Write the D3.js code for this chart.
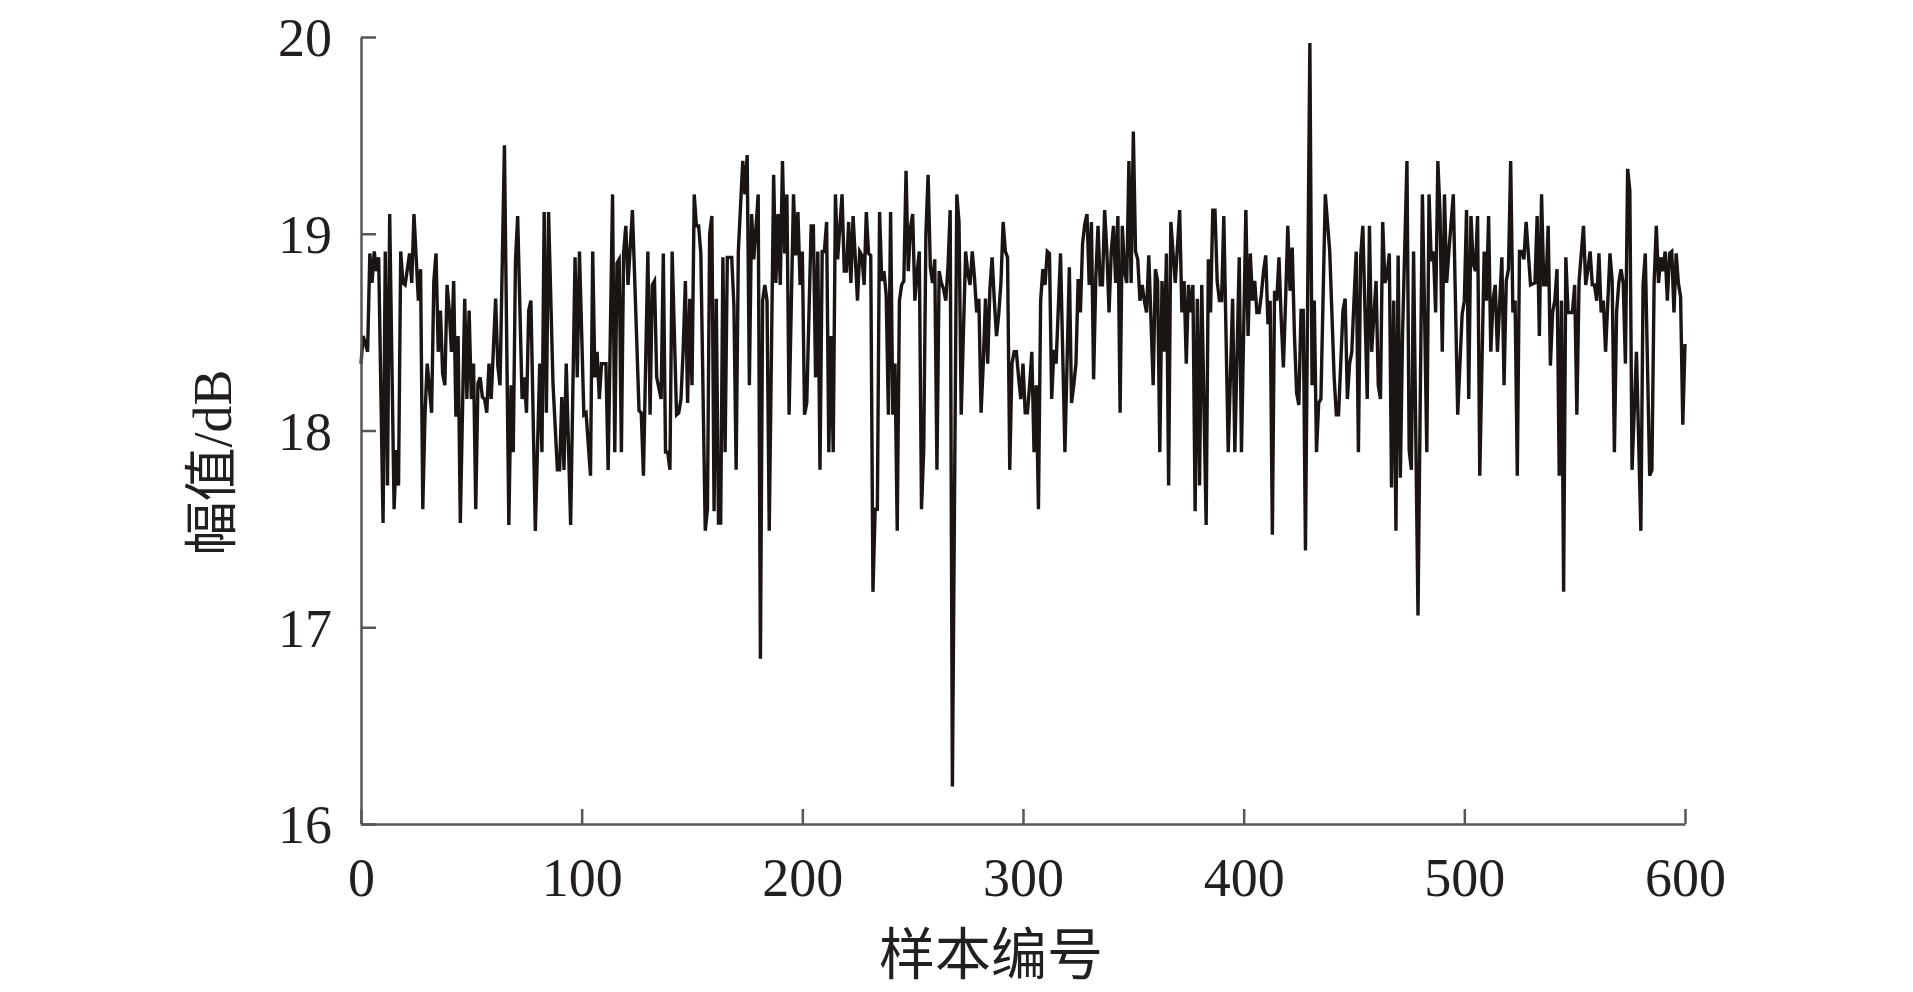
<!DOCTYPE html>
<html>
<head>
<meta charset="utf-8">
<script src="https://cdn.jsdelivr.net/npm/d3@7"></script>
<style>
  html, body { margin: 0; padding: 0; background: #fff; }
</style>
</head>
<body>
<div id="chart"></div>
<script>
// sample numbers where the trace turns
const sampleNo = [
  0,1,3,4,5,6,7,8,10,11,12,13,15,16,17,18,19,20,22,23,24,26,27,28,29,30,32,33,34,35,36,37,38,39,40,41,42,43,44,45,47,48,49,50,
  51,52,53,54,55,56,57,58,59,61,62,63,65,67,68,69,70,71,73,74,75,76,77,79,81,82,83,84,85,87,89,90,91,92,93,95,97,98,99,
  101,102,104,105,106,107,108,109,111,112,114,115,116,117,118,119,120,121,123,126,127,128,130,131,132,133,134,136,137,138,139,140,141,143,144,145,146,147,148,149,150,
  151,152,153,154,156,157,158,159,160,161,162,163,164,165,166,168,169,170,171,173,174,175,176,177,178,180,181,182,183,184,185,187,188,189,190,191,192,193,194,196,197,198,199,200,
  201,202,204,205,206,207,208,209,210,211,212,213,214,215,216,218,219,220,221,222,223,225,226,227,228,229,230,231,232,233,234,235,236,237,238,239,240,241,242,243,244,245,246,247,248,249,250,
  251,252,253,254,255,256,257,258,259,260,261,262,263,264,265,266,267,268,270,271,272,274,275,276,277,278,279,280,281,282,283,284,285,286,287,288,289,290,291,292,293,294,295,296,297,298,299,300,
  301,302,303,304,305,306,307,308,309,310,311,312,313,314,315,317,319,321,322,323,324,325,326,327,328,329,330,331,332,333,334,335,336,337,338,339,340,341,342,343,344,345,346,347,348,349,350,
  351,352,353,354,355,356,357,359,360,361,362,363,364,365,366,367,369,371,372,373,374,375,376,377,378,379,380,381,383,384,385,386,387,388,389,390,391,393,395,396,398,399,
  401,402,403,404,405,406,407,408,409,410,411,412,413,414,415,416,417,418,419,420,421,422,423,424,425,426,427,428,430,431,432,433,434,435,437,439,441,442,443,445,446,447,448,449,450,
  451,452,453,454,456,457,458,459,460,461,462,463,464,465,466,467,468,469,470,471,472,474,475,476,477,479,481,482,483,484,485,486,487,488,489,490,491,492,493,495,497,499,500,
  501,502,503,504,505,506,507,509,510,511,512,513,514,515,517,518,519,520,521,522,523,524,525,526,527,528,530,532,533,534,535,536,537,538,539,540,541,542,543,544,545,546,547,549,550,
  551,552,554,555,556,557,558,559,560,561,562,563,564,566,567,568,569,570,571,572,573,574,575,576,578,580,581,582,584,585,586,587,588,589,590,591,592,593,594,595,596,597,598,599,600
]

// amplitude in dB at those samples
const amplitude = [
  18.34,18.48,18.40,18.90,18.75,18.91,18.81,18.88,17.53,18.91,17.72,19.10,17.60,17.90,17.72,18.91,18.75,18.74,18.90,18.75,19.10,18.66,18.82,17.60,18.08,18.34,18.09,18.76,18.90,18.40,18.61,18.29,18.23,18.74,18.61,18.40,18.76,18.07,18.48,17.53,18.67,18.16,18.61,18.16,
  18.34,17.60,18.24,18.27,18.17,18.16,18.09,18.34,18.16,18.67,18.33,18.23,19.45,17.52,18.23,17.89,18.86,19.09,18.16,18.27,18.09,18.61,18.66,17.49,18.34,17.89,19.11,18.09,19.11,18.24,17.80,17.80,18.17,17.80,18.34,17.52,18.88,18.27,18.91,
  18.08,18.09,17.77,18.91,18.27,18.40,18.16,18.34,18.34,17.80,19.20,17.89,18.85,18.87,17.89,18.90,19.04,18.74,19.12,18.10,18.09,17.77,18.91,18.08,18.74,18.76,18.27,18.16,18.90,17.89,17.89,17.80,18.91,18.08,18.09,18.16,18.41,18.76,18.14,18.67,18.23,
  19.20,19.04,19.04,18.90,17.49,17.60,19.00,19.09,17.59,18.67,17.53,17.53,18.88,17.89,18.88,18.88,18.63,17.80,18.91,19.37,19.20,19.40,18.23,19.10,18.87,19.20,16.84,18.66,18.74,18.66,17.49,19.30,18.75,19.10,18.74,19.37,18.90,19.20,18.08,19.20,18.89,19.11,18.74,18.91,
  18.08,18.14,19.04,19.04,18.27,18.91,17.80,18.91,18.91,19.06,17.89,18.48,17.89,19.20,18.87,19.20,18.81,18.81,19.06,18.75,19.09,18.66,18.91,18.89,18.74,19.11,18.90,18.89,17.18,17.60,17.60,19.11,18.76,18.81,18.69,18.08,19.11,18.08,18.34,17.49,18.66,18.74,18.76,19.32,18.81,19.03,19.10,
  18.66,18.80,18.91,17.60,17.90,19.00,19.30,18.83,18.75,18.87,17.80,18.81,18.75,18.72,18.66,18.83,19.12,16.19,19.20,19.06,18.08,18.91,18.80,18.74,18.91,18.78,18.60,18.67,18.09,18.34,18.67,18.34,18.72,18.88,18.66,18.48,18.59,18.75,19.06,18.91,18.88,17.80,18.34,18.40,18.40,18.27,18.16,18.34,
  18.09,18.09,18.23,18.40,17.89,18.23,17.60,18.66,18.82,18.74,18.91,18.90,18.16,18.41,18.34,18.90,17.89,18.83,18.14,18.23,18.34,18.77,18.60,18.95,19.05,19.10,18.74,19.06,18.26,18.78,19.04,18.74,18.74,19.12,18.91,18.60,18.91,19.04,18.75,19.09,18.09,19.04,18.81,18.75,19.37,18.75,19.52,
  18.91,18.87,18.66,18.74,18.66,18.60,18.89,18.23,18.82,18.76,17.89,18.76,18.40,18.90,17.72,19.06,18.75,19.12,18.60,18.76,18.34,18.74,18.60,18.74,17.59,18.67,17.72,18.74,17.52,18.87,18.60,19.12,19.12,18.76,18.66,18.66,19.09,17.89,18.67,17.89,18.88,17.89,
  19.12,18.48,18.90,18.66,18.76,18.60,18.60,18.69,18.81,18.89,18.54,18.66,17.47,18.71,18.66,18.88,18.57,18.32,18.66,19.04,18.71,18.93,18.49,18.19,18.13,18.61,18.61,17.39,19.97,18.23,18.66,17.89,18.14,18.16,19.20,18.91,18.27,18.08,18.08,18.61,18.67,18.16,18.34,18.40,18.66,
  18.91,17.89,18.88,19.04,18.16,19.04,18.40,18.58,18.76,18.23,18.16,19.06,18.75,18.79,18.90,17.71,18.66,17.49,18.89,17.76,18.49,19.37,17.90,17.80,18.91,17.06,19.20,18.58,17.89,19.20,18.86,18.91,18.60,19.37,19.10,18.40,19.20,18.75,18.91,19.20,18.08,18.59,18.66,
  19.12,18.16,19.09,18.85,18.81,19.09,17.77,18.91,18.66,19.09,18.40,18.66,18.74,18.40,18.88,18.23,18.76,18.82,19.37,18.60,18.66,17.77,18.91,18.91,18.87,19.06,18.74,18.75,19.09,18.48,19.20,18.74,18.74,19.04,18.33,18.60,18.66,18.82,17.77,18.66,17.18,18.88,18.60,18.60,18.74,
  18.08,18.76,19.04,18.74,18.82,18.91,18.74,18.74,18.66,18.90,18.60,18.66,18.40,18.90,18.76,17.89,18.60,18.75,18.82,18.75,18.34,19.33,19.22,17.80,18.40,17.49,18.74,18.90,17.77,17.80,18.75,19.04,18.75,18.88,18.81,18.91,18.66,18.90,18.91,18.60,18.90,18.75,18.68,18.03,18.44
]

const xTicks = [0, 100, 200, 300, 400, 500, 600]
const yTicks = [16, 17, 18, 19, 20]
const xTitle = "样本编号"
const yTitle = "幅值/dB"

const W = 1913, H = 992
const margin = { top: 37, right: 228, bottom: 168, left: 361 }
const width = W - margin.left - margin.right
const height = H - margin.top - margin.bottom

const axisColor = "#5b5656"
const textColor = "#231f20"
const numFont = "'Liberation Serif', 'DejaVu Serif', serif"
const cjkFont = "'Noto Sans CJK SC', 'Noto Sans', sans-serif"

const svg = d3.select("#chart")
  .append("svg")
  .attr("width", W)
  .attr("height", H)

const root = svg.append("g")
  .attr("transform", "translate(" + margin.left + "," + margin.top + ")")

const x = d3.scaleLinear().domain([0, 600]).range([0, width])
const y = d3.scaleLinear().domain([16, 20]).range([height, 0])

const points = sampleNo.map((s, i) => ({ s: s, v: amplitude[i] }))

// trace
root.append("path")
  .datum(points)
  .attr("fill", "none")
  .attr("stroke", "#1a1512")
  .attr("stroke-width", 3.4)
  .attr("stroke-linejoin", "miter")
  .attr("stroke-miterlimit", 4)
  .attr("d", d3.line().x(d => x(d.s)).y(d => y(d.v)))

// x axis, ticks pointing inward
const gx = root.append("g")
  .attr("transform", "translate(0," + height + ")")
  .call(d3.axisBottom(x).tickValues(xTicks).tickFormat(d3.format("d"))
    .tickSizeInner(-15).tickSizeOuter(0).tickPadding(34))

// y axis
const gy = root.append("g")
  .call(d3.axisLeft(y).tickValues(yTicks).tickFormat(d3.format("d"))
    .tickSizeInner(-15).tickSizeOuter(0).tickPadding(29))

;[gx, gy].forEach(g => {
  g.select(".domain").attr("stroke", axisColor).attr("stroke-width", 2.5)
  g.selectAll(".tick line").attr("stroke", axisColor).attr("stroke-width", 2.5)
  g.selectAll(".tick text")
    .attr("fill", textColor)
    .style("font-family", numFont)
    .style("font-size", "54px")
})
gy.selectAll(".tick text").attr("dy", "0.35em")

// axis titles
root.append("text")
  .attr("x", 630)
  .attr("y", height + 150)
  .attr("text-anchor", "middle")
  .attr("fill", textColor)
  .style("font-family", cjkFont)
  .style("font-size", "56px")
  .text(xTitle)

root.append("text")
  .attr("transform", "translate(" + (-130) + "," + (height / 2 + 32) + ") rotate(-90)")
  .attr("text-anchor", "middle")
  .attr("fill", textColor)
  .style("font-size", "54px")
  .call(t => {
    t.append("tspan").style("font-family", cjkFont).text(yTitle.slice(0, 2))
    t.append("tspan").style("font-family", numFont).text(yTitle.slice(2))
  })
</script>
</body>
</html>
